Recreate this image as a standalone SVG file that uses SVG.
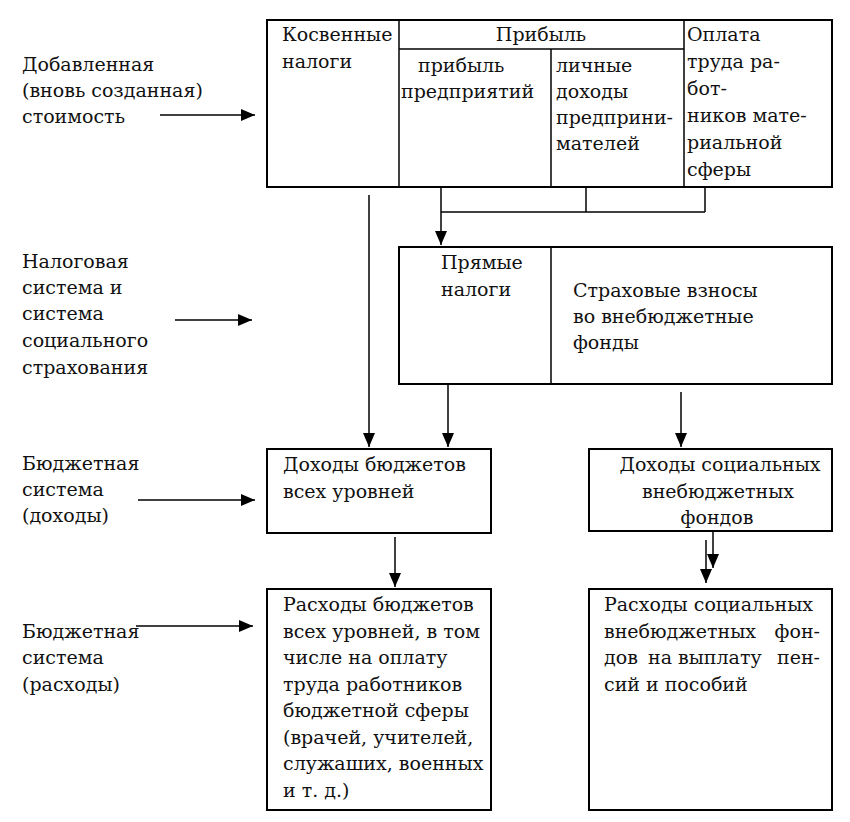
<svg xmlns="http://www.w3.org/2000/svg" width="850" height="822" viewBox="0 0 850 822">
<defs>
<marker id="ah" viewBox="0 0 14 12" refX="14" refY="6" markerWidth="14" markerHeight="12" markerUnits="userSpaceOnUse" orient="auto">
<path d="M0,0 L14,6 L0,12 Z" fill="#000"/>
</marker>
</defs>
<style>
text{font-family:"DejaVu Serif","Liberation Serif","Noto Serif",serif;font-size:19px;fill:#111}
.b{fill:#fff;stroke:#000;stroke-width:2}
.l{stroke:#000;stroke-width:1.5;fill:none}
.c{stroke:#000;stroke-width:1.5;fill:none;marker-end:url(#ah)}
.m{text-anchor:middle}
.e{text-anchor:end}
</style>
<rect width="850" height="822" fill="#fff"/>

<g id="labels">
<text x="22" y="71">Добавленная</text>
<text x="22" y="97">(вновь созданная)</text>
<text x="22" y="123">стоимость</text>
<text x="22" y="268">Налоговая</text>
<text x="22" y="294">система и</text>
<text x="22" y="320">система</text>
<text x="22" y="347">социального</text>
<text x="22" y="374">страхования</text>
<text x="22" y="470">Бюджетная</text>
<text x="22" y="496">система</text>
<text x="22" y="522">(доходы)</text>
<text x="22" y="638">Бюджетная</text>
<text x="22" y="664">система</text>
<text x="22" y="691">(расходы)</text>
</g>

<g id="value-added">
<rect class="b" x="267" y="20" width="565" height="167"/>
<line class="l" x1="399" y1="20" x2="399" y2="187"/>
<line class="l" x1="684" y1="20" x2="684" y2="187"/>
<line class="l" x1="399" y1="49" x2="684" y2="49"/>
<line class="l" x1="551" y1="49" x2="551" y2="187"/>
<text x="282" y="41">Косвенные</text>
<text x="282" y="68">налоги</text>
<text class="m" x="541" y="41">Прибыль</text>
<text x="418" y="72">прибыль</text>
<text x="401" y="98">предприятий</text>
<text x="556" y="72">личные</text>
<text x="556" y="98">доходы</text>
<text x="556" y="124">предприни-</text>
<text x="556" y="150">мателей</text>
<text x="687" y="41">Оплата</text>
<text x="687" y="68">труда ра-</text>
<text x="687" y="95">бот-</text>
<text x="687" y="122">ников мате-</text>
<text x="687" y="149">риальной</text>
<text x="687" y="176">сферы</text>
</g>

<g id="taxes">
<rect class="b" x="399" y="247" width="433" height="137"/>
<line class="l" x1="551" y1="247" x2="551" y2="384"/>
<text x="441" y="269">Прямые</text>
<text x="441" y="296">налоги</text>
<text x="573" y="297">Страховые взносы</text>
<text x="573" y="323">во внебюджетные</text>
<text x="573" y="349">фонды</text>
</g>

<g id="budget-income">
<rect class="b" x="267" y="449" width="224" height="84"/>
<text x="283" y="471">Доходы бюджетов</text>
<text x="283" y="498">всех уровней</text>
</g>

<g id="fund-income">
<rect class="b" x="589" y="449" width="243" height="82"/>
<text class="m" x="720" y="471">Доходы социальных</text>
<text class="m" x="718" y="498">внебюджетных</text>
<text class="m" x="717" y="524">фондов</text>
</g>

<g id="budget-expenses">
<rect class="b" x="267" y="589" width="224" height="221"/>
<text x="283" y="611">Расходы бюджетов</text>
<text x="283" y="638">всех уровней, в том</text>
<text x="283" y="664">числе на оплату</text>
<text x="283" y="691">труда работников</text>
<text x="283" y="717">бюджетной сферы</text>
<text x="283" y="744">(врачей, учителей,</text>
<text x="283" y="770">служаших, военных</text>
<text x="283" y="797">и т. д.)</text>
</g>

<g id="fund-expenses">
<rect class="b" x="589" y="589" width="243" height="221"/>
<text x="604" y="611">Расходы социальных</text>
<text x="604" y="638">внебюджетных</text>
<text class="e" x="820" y="638">фон-</text>
<text x="604" y="664">дов</text>
<text x="648" y="664">на выплату</text>
<text class="e" x="820" y="664">пен-</text>
<text x="604" y="691">сий и пособий</text>
</g>

<g id="connectors">
<line class="c" x1="160" y1="115" x2="255" y2="115"/>
<line class="c" x1="175" y1="320" x2="252" y2="320"/>
<line class="c" x1="138" y1="500" x2="255" y2="500"/>
<line class="c" x1="136" y1="626" x2="253" y2="626"/>
<line class="c" x1="369" y1="195" x2="369" y2="447"/>
<line class="l" x1="586" y1="187" x2="586" y2="212"/>
<line class="l" x1="705" y1="187" x2="705" y2="212"/>
<polyline class="l" points="441,212 705,212"/>
<line class="c" x1="441" y1="187" x2="441" y2="245"/>
<line class="c" x1="448" y1="384" x2="448" y2="447"/>
<line class="c" x1="681" y1="392" x2="681" y2="447"/>
<line class="c" x1="395" y1="537" x2="395" y2="587"/>
<line class="c" x1="713" y1="531" x2="713" y2="568"/>
<line class="c" x1="706" y1="540" x2="706" y2="583"/>
</g>
</svg>
